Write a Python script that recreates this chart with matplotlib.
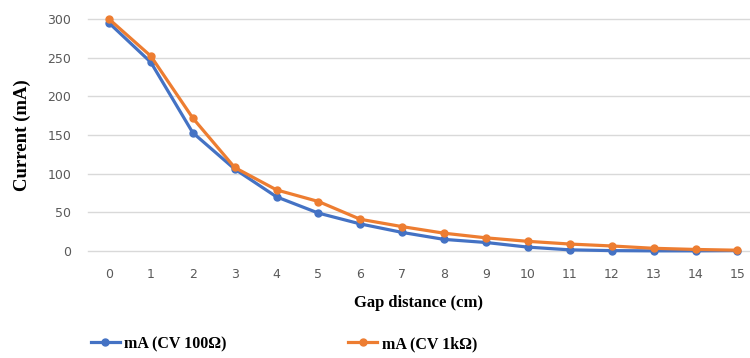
import matplotlib.pyplot as plt

gap_cm = list(range(16))
ma_cv_100 = [295, 244, 153, 106, 70, 49, 35, 24, 15, 11, 5, 1.5, 0.5, 0.2, 0.2, 0.5]
ma_cv_1k = [300, 252, 172, 108, 79, 64, 41, 31.5, 23, 17, 12.5, 9, 6.5, 3.5, 2, 1]
y_ticks = [0, 50, 100, 150, 200, 250, 300]

blue = '#4472C4'
orange = '#ED7D31'
serif = ['Liberation Serif', 'DejaVu Serif']

fig = plt.figure(figsize=(7.5, 3.58), dpi=100)
ax = fig.add_axes([88 / 750, 1 - 251 / 358, 1 - 88 / 750, (251 - 19) / 358])

ax.plot(gap_cm, ma_cv_100, color=blue, lw=2.3, marker='o', ms=5, label='mA (CV 100\u03a9)', clip_on=False, zorder=3)
ax.plot(gap_cm, ma_cv_1k, color=orange, lw=2.3, marker='o', ms=5, label='mA (CV 1k\u03a9)', clip_on=False, zorder=4)

ax.set_xlim(-0.5, 15.3)
ax.set_ylim(0, 300)
ax.set_xticks(gap_cm)
ax.set_yticks(y_ticks)
ax.grid(axis='y', color='#d9d9d9', lw=1)
for gl in ax.get_ygridlines():
    gl.set_clip_on(False)
ax.set_axisbelow(True)
for s in ax.spines.values():
    s.set_visible(False)
ax.tick_params(length=0, labelsize=9, labelcolor='#595959')
ax.tick_params(axis='y', pad=12)
ax.tick_params(axis='x', pad=12)

ax.set_ylabel('Current (mA)', family=serif, fontweight='bold', fontsize=13.5, labelpad=12)
ax.set_xlabel('Gap distance (cm)', family=serif, fontweight='bold', fontsize=12, labelpad=10)

fig.legend(loc='center', bbox_to_anchor=(284 / 750, 1 - 344 / 358), ncol=2, frameon=False,
           prop={'family': serif, 'weight': 'bold', 'size': 11.5},
           handlelength=1.8, handletextpad=0.3, columnspacing=7.6)

plt.savefig('out.png', dpi=100)
